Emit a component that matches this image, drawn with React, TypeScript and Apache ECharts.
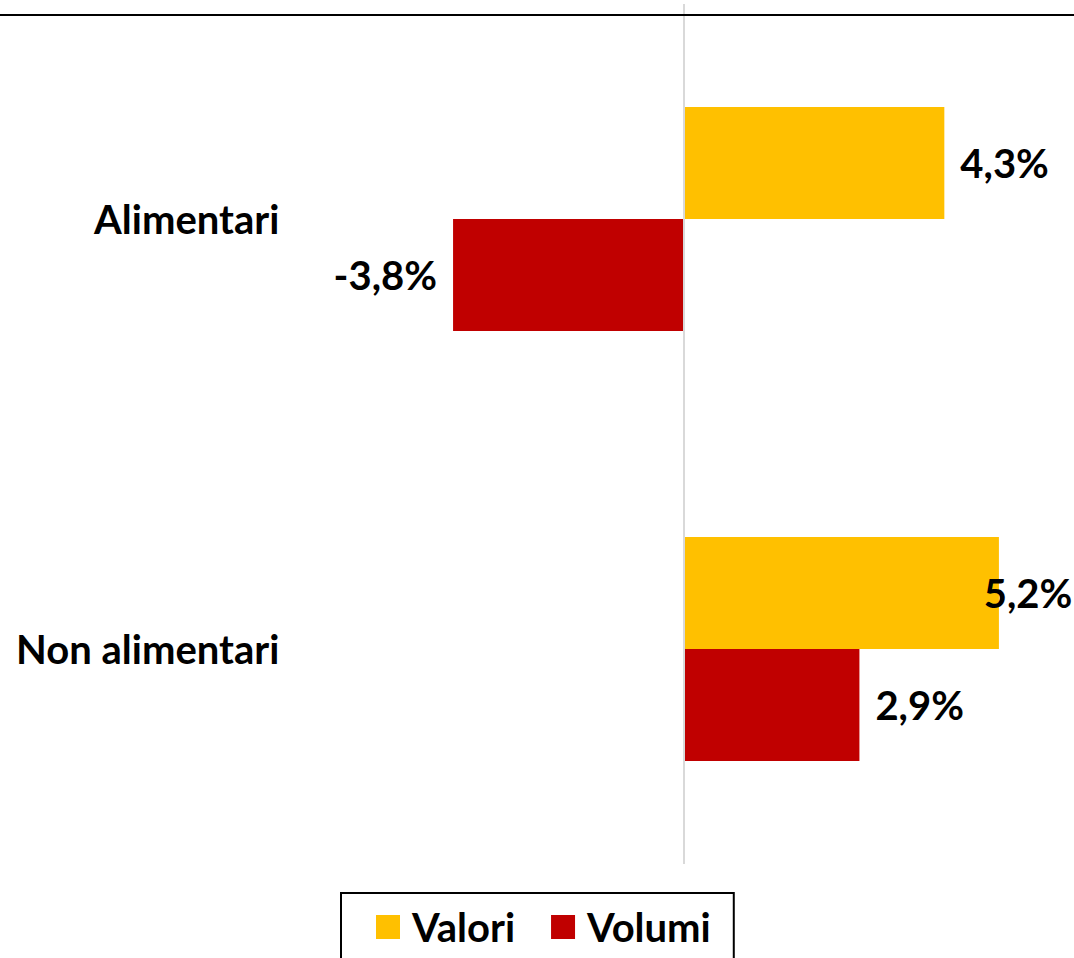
import React, { useEffect, useRef } from "react";
import * as echarts from "echarts";

const categories = ["Alimentari", "Non alimentari"];
const seriesNames = ["Valori", "Volumi"];
const valori = [4.3, 5.2];
const volumi = [-3.8, 2.9];
const colors = ["#FFC000", "#C00000"];

const W = 1074;
const H = 958;
const X_MIN = -6.5;
const X_MAX = 6.4;
const GRID_LEFT = 289.3;
const GRID_RIGHT = 2.3;
const FONT = "Lato";
const FONT_SIZE = 40;
const LABEL_DIST = 16;
const LABEL_W = 84;

const pxPerUnit = (W - GRID_LEFT - GRID_RIGHT) / (X_MAX - X_MIN);
const gridRightEdge = W - GRID_RIGHT;
const zeroX = GRID_LEFT + (0 - X_MIN) * pxPerUnit;

const fmt = (v: number) => v.toFixed(1).replace(".", ",") + "%";

function buildData(values: number[]) {
  return values.map((v) => {
    if (v < 0) {
      return { value: v, label: { position: "left" as const } };
    }
    const end = zeroX + v * pxPerUnit + LABEL_DIST + LABEL_W;
    const overflow = end - (gridRightEdge - 4);
    return {
      value: v,
      label: { position: "right" as const, offset: [overflow > 0 ? -overflow : 0, 0] },
    };
  });
}

export default function App() {
  const ref = useRef<HTMLDivElement>(null);
  useEffect(() => {
    if (!ref.current) return;
    const chart = echarts.init(ref.current, null, { renderer: "svg" });
    const labelStyle = {
      show: true,
      distance: LABEL_DIST,
      fontFamily: FONT,
      fontWeight: "bold" as const,
      fontSize: FONT_SIZE,
      color: "#000",
      formatter: (p: any) => fmt(p.value),
    };
    chart.setOption({
      animation: false,
      backgroundColor: "#fff",
      grid: { left: GRID_LEFT, right: GRID_RIGHT, top: 4, bottom: H - 864, containLabel: false },
      xAxis: {
        type: "value",
        min: X_MIN,
        max: X_MAX,
        show: false,
        splitLine: { show: false },
      },
      yAxis: {
        type: "category",
        data: categories,
        inverse: true,
        axisLine: { show: false },
        axisTick: { show: false },
        axisLabel: {
          margin: 10,
          fontFamily: FONT,
          fontWeight: "bold",
          fontSize: FONT_SIZE,
          color: "#000",
        },
      },
      legend: {
        data: seriesNames,
        left: 341,
        top: 893,
        orient: "horizontal",
        itemWidth: 24,
        itemHeight: 24,
        itemGap: 36,
        icon: "rect",
        padding: [14, 23, 40, 35],
        borderColor: "#000",
        borderWidth: 2,
        borderRadius: 0,
        textStyle: {
          fontFamily: FONT,
          fontWeight: "bold",
          fontSize: FONT_SIZE,
          lineHeight: 40,
          color: "#000",
          padding: [0, 0, 0, 7],
        },
      },
      graphic: [
        {
          type: "line",
          shape: { x1: 0, y1: 15, x2: W, y2: 15 },
          style: { stroke: "#000", lineWidth: 2 },
          z: 100,
        },
      ],
      series: [
        {
          name: seriesNames[0],
          type: "bar",
          data: buildData(valori),
          itemStyle: { color: colors[0] },
          barWidth: 112,
          barGap: "0%",
          label: labelStyle,
          markLine: {
            silent: true,
            symbol: "none",
            label: { show: false },
            lineStyle: { color: "#D9D9D9", width: 2, type: "solid" },
            data: [{ xAxis: 0 }],
          },
        },
        {
          name: seriesNames[1],
          type: "bar",
          data: buildData(volumi),
          itemStyle: { color: colors[1] },
          barWidth: 112,
          barGap: "0%",
          label: labelStyle,
        },
      ],
    });
    return () => chart.dispose();
  }, []);
  return (
    <div
      ref={ref}
      style={{ position: "absolute", left: 0, top: 0, width: W, height: H }}
    />
  );
}
